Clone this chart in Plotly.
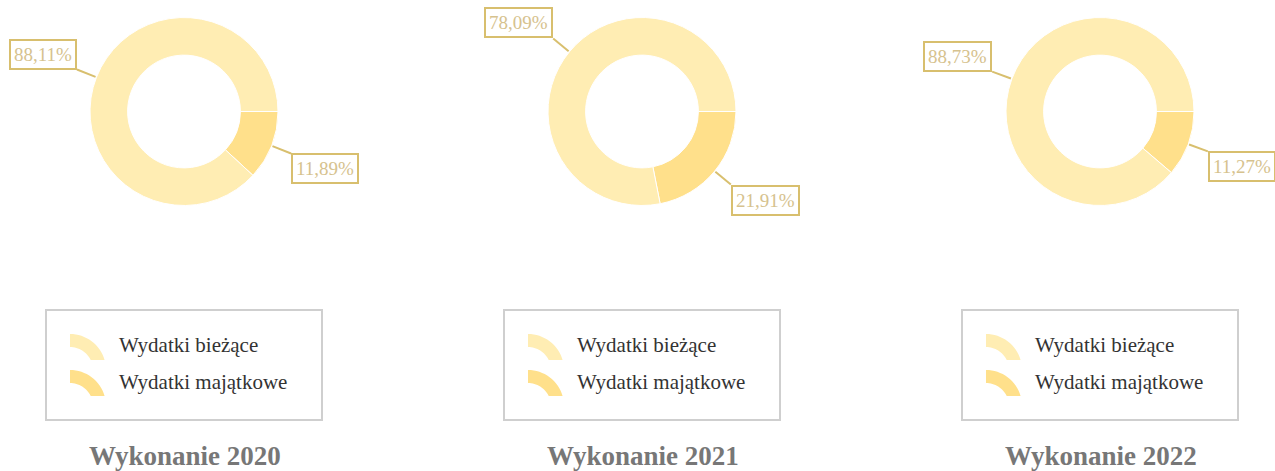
import math
import plotly.graph_objects as go

# ---- data ----
years = ["2020", "2021", "2022"]
series_names = ["Wydatki majątkowe", "Wydatki bieżące"]
majatkowe = [11.89, 21.91, 11.27]
biezace = [88.11, 78.09, 88.73]
titles = ["Wykonanie 2020", "Wykonanie 2021", "Wykonanie 2022"]
legend_labels = ["Wydatki bieżące", "Wydatki majątkowe"]

# ---- layout constants ----
W, H = 1275, 471
CENTERS_X = [184, 642, 1100]
CY = 111.5
R = 94
HOLE = 0.6
COL_BIEZ = "#FFEDB3"
COL_MAJ = "#FFE08B"
GOLD = "#D8BF6E"
LABEL_TXT = "#D6C28E"
FONT = "Liberation Serif, Times New Roman, serif"


def px(x):
    return x / W


def py(y):
    return 1 - y / H


def fmt(v):
    return f"{v:.2f}".replace(".", ",") + "%"


fig = go.Figure()
shapes = []
annotations = []

for i, yr in enumerate(years):
    cx = CENTERS_X[i]
    vals = [majatkowe[i], biezace[i]]
    fig.add_trace(go.Pie(
        labels=series_names,
        values=vals,
        hole=HOLE,
        sort=False,
        direction="clockwise",
        rotation=90,
        textinfo="none",
        hoverinfo="label+percent",
        marker=dict(colors=[COL_MAJ, COL_BIEZ], line=dict(color="white", width=1)),
        domain=dict(x=[px(cx - R), px(cx + R)], y=[py(CY + R), py(CY - R)]),
        showlegend=False,
    ))

    # leader lines + boxed labels
    total = sum(vals)
    cum = 0
    for v in vals:
        mid = (cum + v / 2) / total * 2 * math.pi
        cum += v
        c, s = math.cos(mid), math.sin(mid)
        x0, y0 = cx + (R + 1) * c, CY + (R + 1) * s
        x1, y1 = cx + (R + 21) * c, CY + (R + 21) * s
        shapes.append(dict(type="line", xref="paper", yref="paper",
                           x0=px(x0), y0=py(y0), x1=px(x1), y1=py(y1),
                           line=dict(color=GOLD, width=2)))
        right = c >= 0
        annotations.append(dict(
            xref="paper", yref="paper", x=px(x1), y=py(y1),
            xanchor="left" if right else "right",
            yanchor="top" if right else "bottom",
            text=fmt(v), showarrow=False,
            font=dict(family=FONT, size=19, color=LABEL_TXT),
            bordercolor=GOLD, borderwidth=2, borderpad=3, bgcolor="white",
        ))

    # legend box
    shapes.append(dict(type="rect", xref="paper", yref="paper",
                       x0=px(cx - 138), x1=px(cx + 138), y0=py(420), y1=py(310),
                       line=dict(color="#CFCFCF", width=2), fillcolor="white", layer="below"))
    for j, (lab, col) in enumerate(zip(legend_labels, [COL_BIEZ, COL_MAJ])):
        ix = cx - 114
        top = 334 + 36 * j
        iy = top + 36
        Ro, Ri = 36, 23
        cut = 10
        pts = []
        a_end_o = math.asin(cut / Ro)
        a_end_i = math.asin(cut / Ri)
        n = 16
        for k in range(n + 1):
            a = math.pi / 2 - (math.pi / 2 - a_end_o) * k / n
            pts.append((ix + Ro * math.cos(a), iy - Ro * math.sin(a)))
        for k in range(n + 1):
            a = a_end_i + (math.pi / 2 - a_end_i) * k / n
            pts.append((ix + Ri * math.cos(a), iy - Ri * math.sin(a)))
        path = "M " + " L ".join(f"{px(x):.5f},{py(y):.5f}" for x, y in pts) + " Z"
        shapes.append(dict(type="path", xref="paper", yref="paper", path=path,
                           fillcolor=col, line=dict(width=0)))
        annotations.append(dict(
            xref="paper", yref="paper", x=px(cx - 67), y=py(345 + 37 * j),
            xanchor="left", yanchor="middle", text=lab, showarrow=False,
            font=dict(family=FONT, size=21, color="#333333"),
        ))

    # title
    annotations.append(dict(
        xref="paper", yref="paper", x=px(cx + 1), y=py(456),
        xanchor="center", yanchor="middle", text=f"<b>{titles[i]}</b>", showarrow=False,
        font=dict(family=FONT, size=27, color="#777777"),
    ))

fig.update_layout(
    width=W, height=H,
    margin=dict(l=0, r=0, t=0, b=0),
    paper_bgcolor="white", plot_bgcolor="white",
    shapes=shapes, annotations=annotations,
    showlegend=False,
)

fig.write_html("out.html", config={"displayModeBar": False},
               post_script="document.body.style.margin='0';document.body.style.overflow='hidden';")
